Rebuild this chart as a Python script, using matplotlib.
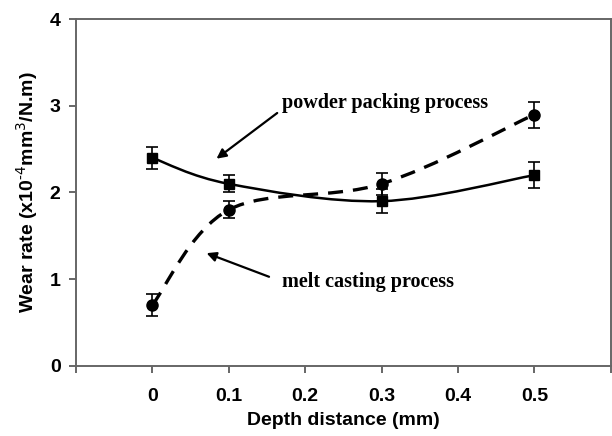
import matplotlib.pyplot as plt
from matplotlib.path import Path
from matplotlib.patches import PathPatch

# data
depth = [0, 0.1, 0.3, 0.5]
powder_rate = [2.4, 2.1, 1.9, 2.2]
powder_err = [0.13, 0.1, 0.14, 0.15]
melt_rate = [0.7, 1.8, 2.1, 2.9]
melt_err = [0.13, 0.1, 0.13, 0.15]

xticks = [-0.1, 0, 0.1, 0.2, 0.3, 0.4, 0.5, 0.6]
xticklabels = ['', '0', '0.1', '0.2', '0.3', '0.4', '0.5', '']
yticks = [0, 1, 2, 3, 4]


def smooth_path(x, y):
    # Excel-like smoothed line: cubic bezier through the points
    pts = list(zip(x, y))
    n = len(pts)
    verts = [pts[0]]
    codes = [Path.MOVETO]
    for i in range(n - 1):
        p0 = pts[max(i - 1, 0)]
        p1 = pts[i]
        p2 = pts[i + 1]
        p3 = pts[min(i + 2, n - 1)]
        c1 = (p1[0] + (p2[0] - p0[0]) / 6, p1[1] + (p2[1] - p0[1]) / 6)
        c2 = (p2[0] - (p3[0] - p1[0]) / 6, p2[1] - (p3[1] - p1[1]) / 6)
        verts += [c1, c2, p2]
        codes += [Path.CURVE4] * 3
    return Path(verts, codes)


plt.rcParams['font.family'] = ['Liberation Sans', 'DejaVu Sans']

fig = plt.figure(figsize=(6.12, 4.36), dpi=100)
ax = fig.add_axes([0.124, 0.161, 0.874, 0.795])

ax.add_patch(PathPatch(smooth_path(depth, powder_rate), fill=False,
                       edgecolor='black', lw=1.8))
ax.add_patch(PathPatch(smooth_path(depth, melt_rate), fill=False,
                       edgecolor='black', lw=2.4, linestyle=(0, (4.5, 3))))

ax.errorbar(depth, powder_rate, yerr=powder_err, fmt='s', color='black',
            ms=7, capsize=4, elinewidth=1.2, capthick=1.2)
ax.errorbar(depth, melt_rate, yerr=melt_err, fmt='o', color='black',
            ms=8, capsize=4, elinewidth=1.2, capthick=1.2)

ax.annotate('powder packing process', xy=(0.084, 2.39), xytext=(0.17, 3.03),
            fontsize=14.5, fontweight='bold', family='Liberation Serif',
            va='center', ha='left',
            arrowprops=dict(arrowstyle='-|>', color='black', lw=1.6,
                            mutation_scale=14, shrinkA=2, shrinkB=0,
                            relpos=(0, 0.2)))
ax.annotate('melt casting process', xy=(0.071, 1.30), xytext=(0.17, 0.97),
            fontsize=14.5, fontweight='bold', family='Liberation Serif',
            va='center', ha='left',
            arrowprops=dict(arrowstyle='-|>', color='black', lw=1.6,
                            mutation_scale=14, shrinkA=8, shrinkB=0,
                            relpos=(0, 0.5)))

ax.set_xlim(-0.1, 0.6)
ax.set_ylim(0, 4)
ax.set_xticks(xticks)
ax.set_xticklabels(xticklabels)
ax.set_yticks(yticks)

for s in ax.spines.values():
    s.set_color('#666666')
    s.set_linewidth(1.4)
ax.tick_params(direction='out', length=5, width=1.4, color='#666666',
               labelsize=14, pad=11)
ax.tick_params(axis='y', pad=6)
for lab in ax.get_xticklabels() + ax.get_yticklabels():
    lab.set_fontweight('bold')

ax.set_xlabel('Depth distance (mm)', fontsize=14, fontweight='bold', labelpad=5)
ax.set_ylabel(r'Wear rate (x10$^{\text{-4}}$mm$^{3}$/N.m)', fontsize=14,
              fontweight='bold', labelpad=7)

plt.savefig('out.png', dpi=100)
